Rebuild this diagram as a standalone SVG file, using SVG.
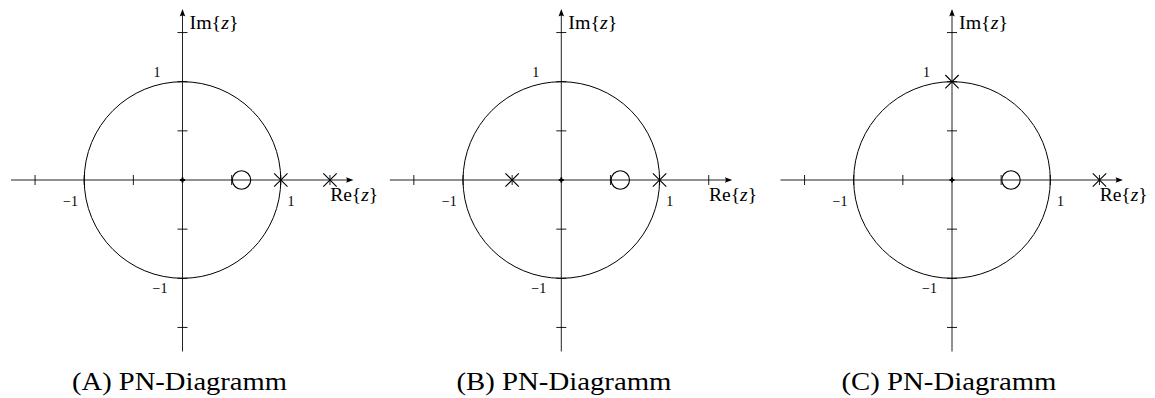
<svg xmlns="http://www.w3.org/2000/svg" width="1155" height="398" viewBox="0 0 1155 398">
<style>
.ax{stroke:#222;stroke-width:1;fill:none}
.tk{stroke:#000;stroke-width:0.9;fill:none}
.org{stroke:#000;stroke-width:2;fill:none}
.uc{stroke:#000;stroke-width:1;fill:none}
.zero{stroke:#000;stroke-width:1.1;fill:none}
.pole{stroke:#000;stroke-width:1.1;fill:none}
.ah{fill:#000;stroke:none}
.num{font-family:"Liberation Serif",serif;font-size:14px;fill:#000}
.axl{font-family:"Liberation Serif",serif;font-size:18px;fill:#000}
.cap{font-family:"Liberation Serif",serif;font-size:26px;fill:#000}
</style>
<defs>
<g id="axes">
<line class="ax" x1="-171.5" y1="0" x2="166" y2="0"/>
<path class="ah" d="M171,0 L163.5,-2.8 Q165.5,0 163.5,2.8 Z"/>
<line class="ax" x1="0" y1="171.5" x2="0" y2="-166"/>
<path class="ah" d="M0,-171 L-2.8,-163.5 Q0,-165.5 2.8,-163.5 Z"/>
<path class="tk" d="M-147.45,-5V5M-98.3,-5V5M-49.15,-5V5M49.15,-5V5M98.3,-5V5M147.45,-5V5M-5,-147.45H5M-5,-98.3H5M-5,-49.15H5M-5,49.15H5M-5,98.3H5M-5,147.45H5"/>
<path class="org" d="M-2.5,0H2.5M0,-2.5V2.5"/>
<circle class="uc" cx="0" cy="0" r="98.3"/>
<text class="num" x="-25.5" y="-103" text-anchor="middle">1</text>
<text class="num" x="-112" y="25.5" text-anchor="middle">−1</text>
<text class="num" x="108.5" y="25.5" text-anchor="middle">1</text>
<text class="num" x="-22.5" y="112.5" text-anchor="middle">−1</text>
<text class="axl" x="147.7" y="21" textLength="48" lengthAdjust="spacingAndGlyphs">Re{<tspan font-style="italic">z</tspan>}</text>
<text class="axl" x="7" y="-151" textLength="49" lengthAdjust="spacingAndGlyphs">Im{<tspan font-style="italic">z</tspan>}</text>
</g>
<path id="x" class="pole" d="M-6.7,-6.7L6.7,6.7M-6.7,6.7L6.7,-6.7"/>
</defs>
<g id="panelA" transform="translate(182.5,180)">
<use href="#axes"/>
<circle class="zero" cx="59" cy="0" r="9.2"/>
<use href="#x" x="98.3" y="0"/>
<use href="#x" x="147.5" y="0"/>
</g>
<g id="panelB" transform="translate(561.3,180)">
<use href="#axes"/>
<circle class="zero" cx="59" cy="0" r="9.2"/>
<use href="#x" x="-49.15" y="0"/>
<use href="#x" x="98.3" y="0"/>
</g>
<g id="panelC" transform="translate(952,180)">
<use href="#axes"/>
<circle class="zero" cx="59" cy="0" r="9.2"/>
<use href="#x" x="0" y="-98.3"/>
<use href="#x" x="147.5" y="0"/>
</g>
<g id="captions">
<text class="cap" x="179.5" y="390" text-anchor="middle" textLength="215" lengthAdjust="spacingAndGlyphs">(A) PN-Diagramm</text>
<text class="cap" x="564" y="390" text-anchor="middle" textLength="215" lengthAdjust="spacingAndGlyphs">(B) PN-Diagramm</text>
<text class="cap" x="949" y="390" text-anchor="middle" textLength="215" lengthAdjust="spacingAndGlyphs">(C) PN-Diagramm</text>
</g>
<g id="connectors"/>
</svg>
